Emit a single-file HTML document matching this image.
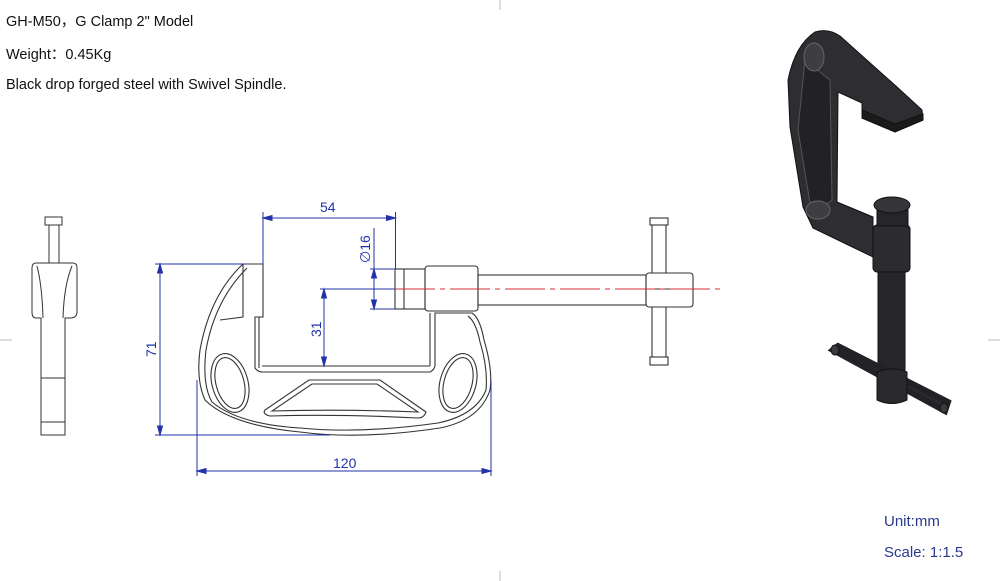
<!DOCTYPE html>
<html><head><meta charset="utf-8"><style>
body{margin:0;background:#fff;width:1000px;height:581px;overflow:hidden;font-family:"Liberation Sans","Noto Sans CJK SC",sans-serif}
.t{position:absolute;font-size:14.5px;color:#111;left:6px}
.u{position:absolute;font-size:15px;color:#2a3a8c;left:884px}
</style></head><body>
<div class="t" style="top:10px">GH-M50，G Clamp 2" Model</div>
<div class="t" style="top:43px">Weight：0.45Kg</div>
<div class="t" style="top:77px">Black drop forged steel with Swivel Spindle.</div>
<div class="u" style="top:513px">Unit:mm</div>
<div class="u" style="top:544px">Scale: 1:1.5</div>
<svg width="1000" height="581" style="position:absolute;left:0;top:0" font-family="Liberation Sans, sans-serif">
<g stroke="#bbb" stroke-width="1"><line x1="500" y1="0" x2="500" y2="10"/><line x1="0" y1="340" x2="12" y2="340"/><line x1="988" y1="340" x2="1000" y2="340"/><line x1="500" y1="571" x2="500" y2="581"/></g>
<!-- side view -->
<g fill="none" stroke="#333" stroke-width="1">
<rect x="45" y="217" width="17" height="8"/>
<line x1="49" y1="225" x2="49" y2="263"/><line x1="59" y1="225" x2="59" y2="263"/>
<path d="M36 263 H73 Q77 263 77 268 V312 Q77 318 70 318 H65 V435 H41 V318 H36 Q32 318 32 312 V268 Q32 263 36 263Z"/>
<path d="M43 318 Q42 285 37 266 M63 318 Q64 285 72 266"/>
<line x1="41" y1="378" x2="65" y2="378"/><line x1="41" y1="422" x2="65" y2="422"/>
</g>
<!-- front view -->
<g fill="none" stroke="#333" stroke-width="1.1">
<path d="M243 264 H263 V317 H255 V368 Q258 372 262 372 H430 Q434 370 435 366 V313 L472 313 Q480 318 484 340 Q493 370 490 390 Q480 420 440 428 Q360 440 300 432 Q230 425 205 400 Q196 380 200 350 Q210 295 243 264Z"/>
<path d="M247 268 Q215 300 206 350 Q202 385 212 402 Q238 424 300 428 Q360 434 438 423 Q476 415 486 390 Q488 368 480 342 Q476 322 468 316"/>
<path d="M243 264 L243 317 L220 320"/>
<line x1="259" y1="317" x2="259" y2="368"/><line x1="262" y1="366" x2="430" y2="366"/><line x1="430" y1="313" x2="430" y2="366"/>
<ellipse cx="230" cy="383" rx="18" ry="30" transform="rotate(-15 230 383)"/>
<ellipse cx="230" cy="383" rx="14" ry="26" transform="rotate(-15 230 383)"/>
<ellipse cx="458" cy="383" rx="18" ry="30" transform="rotate(15 458 383)"/>
<ellipse cx="458" cy="383" rx="14" ry="26" transform="rotate(15 458 383)"/>
<path d="M309 380 H380 L426 412 Q424 418 418 418 Q340 414 270 416 Q262 414 265 410 Z"/>
<path d="M312 384 H377 L418 412 Q340 409 272 411 Z"/>
<rect x="425" y="266" width="53" height="45" rx="3"/>
<rect x="395" y="269" width="30" height="40"/><line x1="404" y1="269" x2="404" y2="309"/>
<rect x="478" y="275" width="168" height="30"/>
<rect x="646" y="273" width="47" height="34" rx="3"/><line x1="646" y1="289" x2="693" y2="289"/>
<line x1="652" y1="225" x2="652" y2="273"/><line x1="666" y1="225" x2="666" y2="273"/>
<line x1="652" y1="307" x2="652" y2="357"/><line x1="666" y1="307" x2="666" y2="357"/>
<rect x="650" y="218" width="18" height="7"/><rect x="650" y="357" width="18" height="8"/>
</g>
<line x1="395" y1="289" x2="720" y2="289" stroke="#d03030" stroke-width="1" stroke-dasharray="40,5,5,5"/>
<!-- dims -->
<g stroke="#2233aa" stroke-width="1" fill="#2233aa">
<line x1="263" y1="212" x2="263" y2="264"/><line x1="395.5" y1="212" x2="395.5" y2="269"/>
<line x1="263" y1="218" x2="395.5" y2="218"/>
<path d="M263 218 l9 -2.5 v5z M395.5 218 l-9 -2.5 v5z"/>
<line x1="155" y1="264" x2="243" y2="264"/><line x1="155" y1="435" x2="330" y2="435"/>
<line x1="160" y1="264" x2="160" y2="435"/>
<path d="M160 264 l-2.5 9 h5z M160 435 l-2.5 -9 h5z"/>
<line x1="197" y1="380" x2="197" y2="476"/><line x1="491" y1="380" x2="491" y2="476"/>
<line x1="197" y1="471" x2="491" y2="471"/>
<path d="M197 471 l9 -2.5 v5z M491 471 l-9 -2.5 v5z"/>
<line x1="320" y1="289" x2="395" y2="289"/>
<line x1="324" y1="289" x2="324" y2="366"/>
<path d="M324 289 l-2.5 9 h5z M324 366 l-2.5 -9 h5z"/>
<line x1="370" y1="269" x2="395" y2="269"/><line x1="370" y1="309" x2="395" y2="309"/>
<line x1="374" y1="228" x2="374" y2="309"/>
<path d="M374 269 l-2.5 9 h5z M374 309 l-2.5 -9 h5z"/>
</g>
<g fill="#2233aa" font-size="14">
<text x="320" y="212">54</text>
<text x="333" y="468">120</text>
<text transform="translate(156 357) rotate(-90)">71</text>
<text transform="translate(321 337) rotate(-90)">31</text>
<text transform="translate(370 263) rotate(-90)">∅16</text>
</g>
<!-- 3D -->
<g stroke="#111" stroke-width="1">
<path d="M815 32 Q828 28 840 36 L897 87 L922 110 L923 120 L895 132 L862 118 L862 103 L838 92 L837 202 L873 217 L873 257 L813 228 L803 207 L790 127 L788 80 Q795 45 815 32Z" fill="#2e2e32"/>
<path d="M805 60 L830 80 L832 200 L812 215 L798 130 Z" fill="#222226" stroke="#555"/>
<ellipse cx="814" cy="57" rx="10" ry="14" fill="#3e3e42" stroke="#666"/>
<ellipse cx="818" cy="210" rx="12" ry="9" fill="#3e3e42" stroke="#666"/>
<path d="M862 110 L895 124 L923 114 L923 120 L895 132 L862 118Z" fill="#1a1a1a"/>
<rect x="878" y="270" width="27" height="104" fill="#26262a"/>
<path d="M833 350 L838 346 L948 402 L945 411 Z" fill="#2a2a2e" stroke-width="6" stroke="#222226"/>
<ellipse cx="835" cy="350" rx="4" ry="5" fill="#3a3a3e"/><ellipse cx="944" cy="408" rx="4" ry="5" fill="#3a3a3e"/>
<path d="M877 372 Q892 366 907 372 V400 Q892 407 877 400Z" fill="#2a2a2e"/>
<rect x="873" y="225" width="37" height="47" rx="4" fill="#2c2c30"/>
<rect x="877" y="210" width="31" height="16" fill="#26262a"/>
<ellipse cx="892" cy="205" rx="18" ry="8" fill="#36363a"/>
</g>
</svg>
</body></html>
